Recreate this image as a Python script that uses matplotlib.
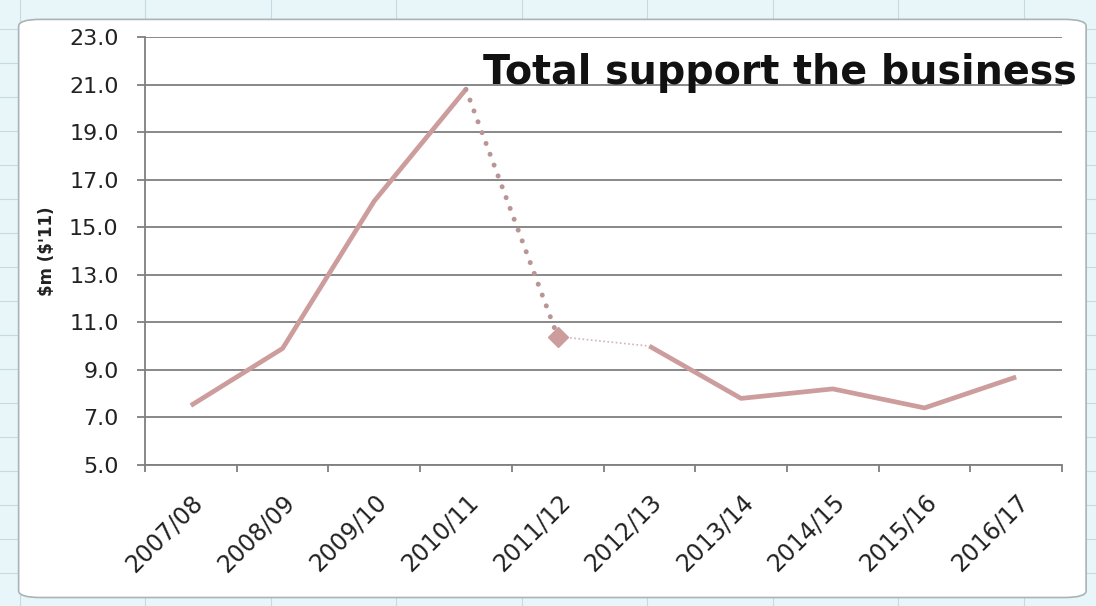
import matplotlib
matplotlib.use("Agg")
import matplotlib.pyplot as plt
import matplotlib.transforms as mtransforms
from matplotlib.patches import FancyBboxPatch
import numpy as np

years = ["2007/08", "2008/09", "2009/10", "2010/11", "2011/12",
         "2012/13", "2013/14", "2014/15", "2015/16", "2016/17"]
support = [7.5, 9.9, 16.1, 20.8, 10.4, 10.0, 7.8, 8.2, 7.4, 8.7]
y_ticks = [5.0, 7.0, 9.0, 11.0, 13.0, 15.0, 17.0, 19.0, 21.0, 23.0]

line_color = "#cd9d9d"
dot_color = "#b89696"
grid_color = "#7f7f7f"
text_color = "#222222"

plt.rcParams["font.family"] = ["DejaVu Sans"]

W, H = 1096, 606
fig = plt.figure(figsize=(W / 100, H / 100), dpi=100)
fig.patch.set_facecolor("#e9f6f9")

# spreadsheet cells behind the chart object
for px in np.arange(19.5, W, 125.5):
    fig.add_artist(plt.Line2D([px / W, px / W], [0, 1], color="#c6dbe1", lw=0.8,
                              transform=fig.transFigure, zorder=0))
for py in np.arange(29, H, 34):
    fig.add_artist(plt.Line2D([0, 1], [1 - py / H, 1 - py / H], color="#c6dbe1",
                              lw=0.8, transform=fig.transFigure, zorder=0))

# chart area
chart_box = FancyBboxPatch((0.017, 0.014), 0.974, 0.954,
                           boxstyle="round,pad=0,rounding_size=0.02",
                           transform=fig.transFigure, facecolor="white",
                           edgecolor="#a9b3b8", lw=1.2, zorder=1,
                           mutation_aspect=H / W)
fig.add_artist(chart_box)

ax = fig.add_axes([0.1323, 0.2327, 0.8367, 0.7063])
ax.set_facecolor("none")
ax.set_zorder(2)

x = np.arange(len(years))

# solid segments
ax.plot(x[0:4], support[0:4], color=line_color, lw=3.4,
        solid_capstyle="butt", solid_joinstyle="round", zorder=3)
ax.plot(x[5:], support[5:], color=line_color, lw=3.4,
        solid_capstyle="butt", solid_joinstyle="round", zorder=3)
# dotted drop into 2011/12
ax.plot(x[3:5], support[3:5], color=dot_color, lw=3.6,
        linestyle=(0, (0.01, 2.3)), dash_capstyle="round", zorder=3)
# thin dotted link to 2012/13
ax.plot(x[4:6], support[4:6], color="#d2b4b4", lw=1.2,
        linestyle=(0, (1, 1.5)), zorder=3)
# 2011/12 marker
ax.plot(x[4], support[4], marker="D", markersize=10.5, color=line_color,
        markeredgecolor=line_color, linestyle="none", zorder=4)

ax.set_xlim(-0.5, len(years) - 0.5)
ax.set_ylim(5, 23)
ax.set_yticks(y_ticks)
ax.set_yticklabels([f"{v:.1f}" for v in y_ticks], fontsize=16, color=text_color)
ax.yaxis.grid(True, color=grid_color, lw=1.3)
ax.set_axisbelow(True)

ax.set_xticks(x)
ax.set_xticklabels(years, rotation=45, ha="right", va="top",
                   rotation_mode="anchor", fontsize=17, color=text_color)
shift = mtransforms.ScaledTranslation(-6 / 100, 0, fig.dpi_scale_trans)
for lab in ax.get_xticklabels():
    lab.set_transform(lab.get_transform() + shift)
ax.set_xticks(np.arange(-0.5, len(years)), minor=True)
ax.tick_params(axis="x", which="major", length=0, pad=18)
ax.tick_params(axis="x", which="minor", length=5, color=grid_color, width=1.3)
ax.tick_params(axis="y", length=6, color=grid_color, width=1.3, pad=13)

for side in ["top", "right"]:
    ax.spines[side].set_visible(False)
for side in ["left", "bottom"]:
    ax.spines[side].set_color(grid_color)
    ax.spines[side].set_linewidth(1.3)

ax.set_ylabel(r"\$m (\$'11)", fontsize=12, fontweight="bold",
              color=text_color, labelpad=9)

fig.text(0.982, 0.88, "Total support the business", ha="right", va="center",
         fontsize=28.5, fontweight="bold", color="#111111", zorder=5)

fig.savefig("out.png", dpi=100, facecolor=fig.get_facecolor())
